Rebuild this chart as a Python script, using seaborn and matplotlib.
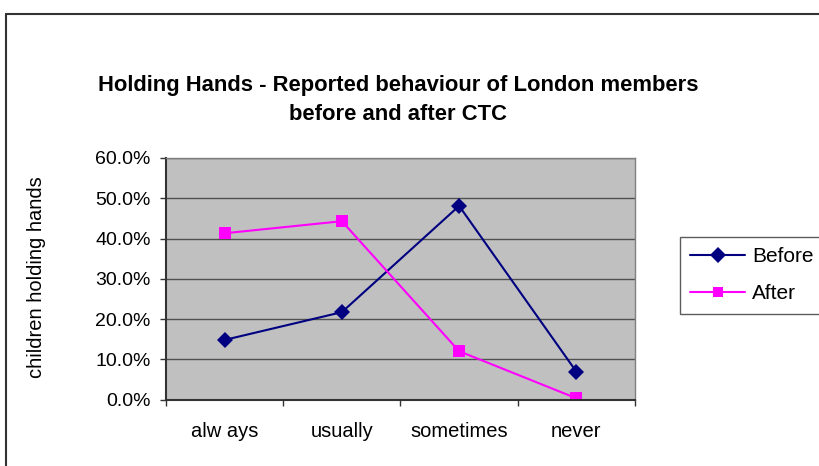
import numpy as np
import matplotlib
matplotlib.use("Agg")
import matplotlib.pyplot as plt
import seaborn as sns
import pandas as pd
from matplotlib.lines import Line2D
from matplotlib.ticker import FuncFormatter, FixedLocator

categories = ["always", "usually", "sometimes", "never"]
tick_labels = ["alw ays", "usually", "sometimes", "never"]
before = [14.8, 21.7, 48.1, 6.9]
after = [41.3, 44.3, 12.0, 0.3]

df = pd.DataFrame({
    "pos": list(range(4)) * 2,
    "value": before + after,
    "series": ["Before"] * 4 + ["After"] * 4,
})

sns.set_style("white", rc={"text.color": "black", "xtick.color": "black",
                           "ytick.color": "black", "axes.labelcolor": "black"})
plt.rcParams["font.family"] = ["Liberation Sans", "DejaVu Sans"]

fig = plt.figure(figsize=(8.19, 4.66), dpi=100)
ax = fig.add_axes([166 / 819, 1 - 399.5 / 466, 469 / 819, 241.5 / 466])
ax.set_facecolor("#c0c0c0")

sns.lineplot(data=df, x="pos", y="value", hue="series", style="series",
             palette={"Before": "#000080", "After": "#ff00ff"},
             markers={"Before": "D", "After": "s"}, dashes=False,
             markersize=8, linewidth=1.5, markeredgewidth=0, ax=ax, legend=False)

ax.set_xlim(-0.5, 3.5)
ax.set_ylim(0, 60)
ax.set_yticks(np.arange(0, 61, 10))
ax.yaxis.set_major_formatter(FuncFormatter(lambda v, p: f"{v:.1f}%"))
ax.grid(axis="y", color="#505050", linewidth=1)
ax.set_axisbelow(True)

ax.set_xticks(range(4))
ax.set_xticklabels(tick_labels)
ax.xaxis.set_minor_locator(FixedLocator([-0.5, 0.5, 1.5, 2.5, 3.5]))
ax.tick_params(axis="x", which="major", length=0, pad=16, labelsize=14.5)
ax.tick_params(axis="x", which="minor", length=4, width=1, color="#333333", direction="out", bottom=True)
ax.tick_params(axis="y", length=4, width=1, color="#333333", direction="out", left=True, pad=7, labelsize=14)
ax.set_xlabel("")
ax.set_ylabel("")

for side in ["left", "bottom"]:
    ax.spines[side].set_color("#333333")
    ax.spines[side].set_linewidth(1.5)
for side in ["top", "right"]:
    ax.spines[side].set_color("#808080")
    ax.spines[side].set_linewidth(1)

fig.text(37 / 819, 1 - 277 / 466, "children holding hands", rotation=90,
         ha="center", va="center", fontsize=14.5)
fig.text(398 / 819, 1 - 85 / 466, "Holding Hands - Reported behaviour of London members",
         ha="center", va="center", fontsize=15.8, fontweight="bold")
fig.text(398 / 819, 1 - 115 / 466, "before and after CTC",
         ha="center", va="center", fontsize=15.8, fontweight="bold")

handles = [
    Line2D([], [], color="#000080", marker="D", markersize=8, markeredgewidth=0, linewidth=1.5),
    Line2D([], [], color="#ff00ff", marker="s", markersize=7.5, markeredgewidth=0, linewidth=1.5),
]
leg = fig.legend(handles, ["Before", "After"], loc="upper left",
                 bbox_to_anchor=(680 / 819, 1 - 237 / 466), fontsize=15,
                 frameon=True, fancybox=False, edgecolor="#333333", borderaxespad=0,
                 handlelength=2.6, borderpad=0.5, labelspacing=0.85, handletextpad=0.35)
leg.get_frame().set_linewidth(1)

fig.add_artist(Line2D([6 / 819, 1], [1 - 14 / 466] * 2, color="#333333", linewidth=1.5))
fig.add_artist(Line2D([6 / 819] * 2, [0, 1 - 14 / 466], color="#333333", linewidth=1.5))

fig.savefig("out.png", dpi=100)
